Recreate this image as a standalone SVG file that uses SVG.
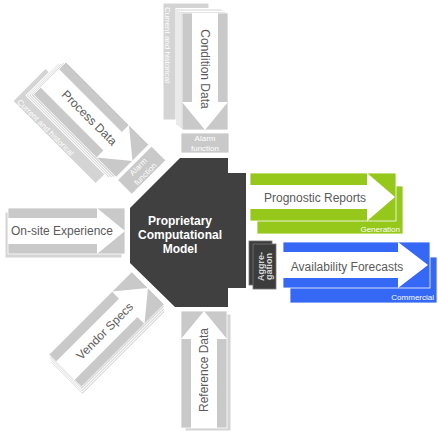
<svg xmlns="http://www.w3.org/2000/svg" xmlns:xlink="http://www.w3.org/1999/xlink" width="438" height="433" viewBox="0 0 438 433">
<style>
.pg{fill:#d4d4d4;stroke:#fff;stroke-width:1}
.cd{fill:#c9c9c9;stroke:#fff;stroke-width:0.8}
.lbl{font-family:"Liberation Sans",Arial,sans-serif;font-size:12px;fill:#5a5a5a;text-anchor:middle}
.sm{font-family:"Liberation Sans",Arial,sans-serif;font-size:8px;fill:#fff}
.ctr{font-family:"Liberation Sans",Arial,sans-serif;font-size:12px;font-weight:bold;fill:#fff;text-anchor:middle}
.agg{font-family:"Liberation Sans",Arial,sans-serif;font-size:9px;font-weight:bold;fill:#d8d8d8;text-anchor:middle}
</style>
<defs>
<rect id="page" width="117" height="46" class="pg"/>
<g id="card"><rect width="117" height="46" class="cd"/><path d="M0,10H89V0L117,23L89,46V36H0Z" fill="#fff"/></g>
<g id="alarm"><rect x="120" y="-1" width="20" height="48" class="cd"/><g transform="translate(130,23) rotate(-90)"><text class="sm" text-anchor="middle" y="-2">Alarm</text><text class="sm" text-anchor="middle" y="8">function</text></g></g>
<g id="hist"><use xlink:href="#page" x="-10" y="19"/><text class="sm" x="-6" y="63.5">Current and historical</text></g>
<g id="stack3"><use xlink:href="#page" x="-4.5" y="6"/><use xlink:href="#page" x="-3" y="4"/><use xlink:href="#page" x="-1.5" y="2"/></g>
</defs>

<g id="connectors"></g>

<g id="condition-data" transform="translate(228,13) rotate(90)">
<use xlink:href="#hist"/><use xlink:href="#stack3"/><use xlink:href="#card"/>
<text class="lbl" x="56" y="27">Condition Data</text>
<use xlink:href="#alarm"/>
</g>

<g id="process-data" transform="translate(66,62) rotate(45)">
<use xlink:href="#hist"/><use xlink:href="#stack3"/><use xlink:href="#card"/>
<text class="lbl" x="56" y="27">Process Data</text>
<use xlink:href="#alarm"/>
</g>

<g id="onsite-experience" transform="translate(8,208)">
<use xlink:href="#page" x="-3" y="4"/><use xlink:href="#card"/>
<text class="lbl" x="54" y="27">On-site Experience</text>
</g>

<g id="vendor-specs" transform="translate(49,354.5) rotate(-45)">
<use xlink:href="#stack3"/><use xlink:href="#card"/>
<text class="lbl" x="56" y="27">Vendor Specs</text>
</g>

<g id="reference-data" transform="translate(181,428) rotate(-90)">
<use xlink:href="#page" x="-3" y="4"/><use xlink:href="#card"/>
<text class="lbl" x="58" y="27">Reference Data</text>
</g>

<g id="model">
<path d="M180,158H228V173H246V288H228V307H175L130,263V208Z" fill="#404040"/>
<text class="ctr" x="180" y="225">Proprietary</text>
<text class="ctr" x="180" y="239">Computational</text>
<text class="ctr" x="180" y="253">Model</text>
</g>

<g id="prognostic-reports">
<rect x="257" y="186" width="146" height="48" fill="#95c81a" stroke="#fff" stroke-width="0.8"/>
<text class="sm" x="400" y="232" text-anchor="end">Generation</text>
<rect x="250" y="173" width="146" height="48" fill="#95c81a" stroke="#fff" stroke-width="0.8"/>
<path d="M250,185H367V173L395,197L367,221V209H250Z" fill="#fff"/>
<text class="lbl" x="315" y="202">Prognostic Reports</text>
</g>

<g id="aggregation">
<rect x="249" y="241" width="23" height="44" fill="#3c3c3c" stroke="#777" stroke-width="0.8"/>
<rect x="253" y="244" width="23" height="45" fill="#3c3c3c" stroke="#777" stroke-width="0.8"/>
<g transform="translate(264.5,266.5) rotate(-90)"><text class="agg" y="-1">Aggre-</text><text class="agg" y="7.5">gation</text></g>
</g>

<g id="availability-forecasts">
<rect x="290" y="257" width="147" height="46" fill="#3568f5" stroke="#fff" stroke-width="0.8"/>
<text class="sm" x="434" y="300" text-anchor="end">Commercial</text>
<rect x="283" y="242" width="147" height="46" fill="#3568f5" stroke="#fff" stroke-width="0.8"/>
<path d="M283,252H398V242L428,265L398,288V278H283Z" fill="#fff"/>
<text class="lbl" x="347" y="271">Availability Forecasts</text>
</g>
</svg>
